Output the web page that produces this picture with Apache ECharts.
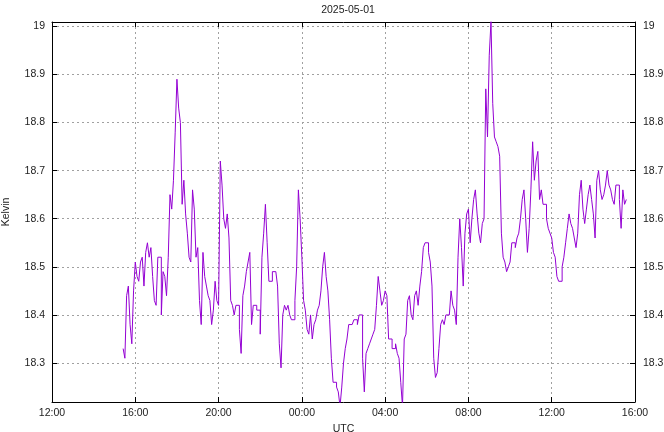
<!DOCTYPE html>
<html><head><meta charset="utf-8">
<script src="https://cdn.jsdelivr.net/npm/echarts@6/dist/echarts.min.js"></script>
<style>html,body{margin:0;padding:0;background:#fff}#c{width:664px;height:432px}</style>
</head><body><div id="c"></div>
<script>
const chartTitle = '2025-05-01';
const xAxisName = 'UTC';
const yAxisName = 'Kelvin';
const startHour = 15 + 25 / 60;   // first sample 15:25 UTC (hours from 00:00 of previous day)
const stepMinutes = 5;            // sampling interval
const kelvin = [
  18.33,18.31,18.44,18.46,18.38,18.34,18.45,18.51,18.48,18.47,
  18.51,18.52,18.46,18.53,18.55,18.52,18.54,18.48,18.43,18.42,
  18.52,18.52,18.40,18.49,18.48,18.44,18.52,18.65,18.62,18.68,
  18.78,18.89,18.83,18.80,18.63,18.68,18.61,18.57,18.52,18.51,
  18.66,18.62,18.52,18.54,18.43,18.38,18.53,18.48,18.46,18.44,
  18.43,18.38,18.41,18.47,18.43,18.42,18.72,18.67,18.60,18.58,
  18.61,18.56,18.43,18.42,18.40,18.42,18.42,18.37,18.32,18.44,
  18.46,18.49,18.51,18.53,18.38,18.42,18.42,18.41,18.41,18.36,
  18.52,18.57,18.63,18.55,18.47,18.47,18.49,18.49,18.49,18.46,
  18.34,18.29,18.40,18.42,18.41,18.42,18.40,18.39,18.39,18.43,
  18.50,18.66,18.60,18.52,18.43,18.41,18.37,18.36,18.40,18.35,
  18.38,18.39,18.41,18.42,18.45,18.50,18.53,18.48,18.45,18.39,
  18.31,18.26,18.26,18.25,18.24,18.21,18.25,18.30,18.33,18.35,
  18.38,18.38,18.38,18.39,18.39,18.38,18.40,18.40,18.31,18.24,
  18.32,18.33,18.34,18.35,18.36,18.37,18.42,18.48,18.45,18.42,
  18.43,18.45,18.44,18.35,18.35,18.33,18.33,18.34,18.32,18.31,
  18.26,18.21,18.35,18.36,18.43,18.44,18.40,18.39,18.44,18.45,
  18.42,18.46,18.49,18.54,18.55,18.55,18.53,18.51,18.46,18.31,
  18.27,18.28,18.33,18.38,18.39,18.38,18.40,18.40,18.40,18.45,
  18.42,18.41,18.38,18.52,18.60,18.54,18.46,18.57,18.61,18.62,
  18.55,18.60,18.64,18.66,18.61,18.57,18.55,18.59,18.60,18.87,
  18.77,18.94,19.01,18.84,18.77,18.76,18.75,18.73,18.57,18.52,
  18.51,18.49,18.50,18.51,18.55,18.55,18.54,18.56,18.57,18.60,
  18.64,18.66,18.60,18.53,18.58,18.66,18.76,18.68,18.72,18.74,
  18.64,18.66,18.63,18.63,18.60,18.58,18.57,18.56,18.53,18.52,
  18.48,18.47,18.47,18.50,18.52,18.55,18.58,18.61,18.59,18.58,
  18.56,18.54,18.57,18.65,18.68,18.62,18.59,18.62,18.65,18.67,
  18.64,18.61,18.56,18.68,18.70,18.66,18.64,18.65,18.67,18.70,
  18.67,18.66,18.64,18.63,18.67,18.67,18.64,18.58,18.66,18.63,
  18.64
];
const xTicks = [12, 16, 20, 24, 28, 32, 36, 40];
const yTicks = [18.3, 18.4, 18.5, 18.6, 18.7, 18.8, 18.9, 19.0];
const yMin = 18.219, yMax = 19.009;

const seriesData = kelvin.map((v, i) => [startHour + i * stepMinutes / 60, v]);
const hourLabel = v => String(Math.round(v) % 24).padStart(2, '0') + ':00';

const FONT = 'Liberation Sans';
const txt = '#222';
const gridLine = { show: true, lineStyle: { color: '#a0a0a0', width: 1, type: [2, 3] } };
const blackLine = { show: true, lineStyle: { color: '#000', width: 1 } };

const chart = echarts.init(document.getElementById('c'), null, { renderer: 'canvas' });
chart.setOption({
  animation: false,
  backgroundColor: '#fff',
  title: {
    text: chartTitle, left: 343, top: 0, textAlign: 'center',
    textStyle: { fontFamily: FONT, fontSize: 10.5, fontWeight: 'normal', color: txt }
  },
  grid: { left: 52, right: 29, top: 22, bottom: 30, containLabel: false, outerBoundsMode: 'none' },
  xAxis: [
    {
      type: 'value', min: xTicks[0], max: xTicks[xTicks.length - 1], interval: 4, position: 'bottom',
      name: xAxisName, nameLocation: 'middle', nameGap: 21,
      nameTextStyle: { fontFamily: FONT, fontSize: 10.5, color: txt },
      axisLine: blackLine,
      axisTick: { show: true, inside: true, length: 5, lineStyle: { color: '#000' } },
      axisLabel: { formatter: hourLabel, fontFamily: FONT, fontSize: 10.5, color: txt, margin: 6 },
      splitLine: gridLine
    },
    {
      type: 'value', min: xTicks[0], max: xTicks[xTicks.length - 1], interval: 4, position: 'top',
      axisLine: blackLine,
      axisTick: { show: true, inside: true, length: 5, lineStyle: { color: '#000' } },
      axisLabel: { show: false }, splitLine: { show: false }
    }
  ],
  yAxis: [
    {
      type: 'value', min: yMin, max: yMax, position: 'left',
      name: yAxisName, nameLocation: 'middle', nameGap: 40, nameRotate: 90,
      nameTextStyle: { fontFamily: FONT, fontSize: 10.5, color: txt },
      axisLine: blackLine,
      axisTick: { show: true, inside: true, length: 5, customValues: yTicks, lineStyle: { color: '#000' } },
      axisLabel: { customValues: yTicks, formatter: v => String(+v.toFixed(2)), fontFamily: FONT, fontSize: 10.5, color: txt, margin: 7 },
      splitLine: gridLine
    },
    {
      type: 'value', min: yMin, max: yMax, position: 'right',
      axisLine: blackLine,
      axisTick: { show: true, inside: true, length: 5, customValues: yTicks, lineStyle: { color: '#000' } },
      axisLabel: { customValues: yTicks, formatter: v => String(+v.toFixed(2)), fontFamily: FONT, fontSize: 10.5, color: txt, margin: 8 },
      splitLine: { show: false }
    }
  ],
  series: [{
    type: 'line', xAxisIndex: 0, yAxisIndex: 0, step: 'end',
    data: seriesData, showSymbol: false, symbol: 'none', clip: true,
    lineStyle: { color: '#9400d3', width: 1 }
  }]
});
</script></body></html>
